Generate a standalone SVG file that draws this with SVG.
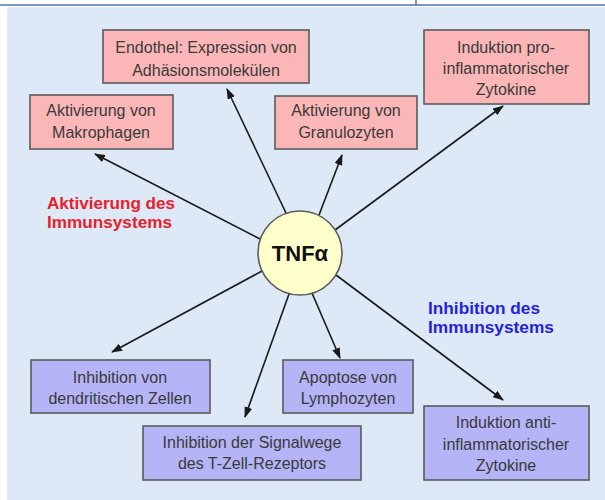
<svg xmlns="http://www.w3.org/2000/svg" width="605" height="500" viewBox="0 0 605 500">
<defs>
<marker id="ah" markerUnits="userSpaceOnUse" markerWidth="11" markerHeight="8" refX="10" refY="4" orient="auto">
<path d="M0,0 L11,4 L0,8 z" fill="#1a1a1a"/>
</marker>
<style>
.pink{fill:#fbb7b7;stroke:#5a5a5a;stroke-width:1.6}
.blue{fill:#b4b4f6;stroke:#5a5a5a;stroke-width:1.6}
.t{font-family:"Liberation Sans",Arial,sans-serif;font-size:16px;fill:#3a3a3a;text-anchor:middle}
.lbl{font-family:"Liberation Sans",Arial,sans-serif;font-size:17px;font-weight:bold}
.c line{stroke:#1a1a1a;stroke-width:1.6;marker-end:url(#ah)}
</style>
</defs>
<rect x="0" y="0" width="605" height="500" fill="#ffffff"/>
<rect x="7" y="7" width="598" height="493" fill="#dde9f7"/>
<line x1="0" y1="5" x2="605" y2="5" stroke="#4f73b8" stroke-width="1.5"/>
<line x1="416" y1="0" x2="416" y2="5" stroke="#4f73b8" stroke-width="1.5"/>

<g class="c">
<line x1="260" y1="239" x2="95" y2="154"/>
<line x1="286" y1="213" x2="227" y2="89"/>
<line x1="319" y1="215" x2="342" y2="155"/>
<line x1="335" y1="230" x2="503" y2="106"/>
<line x1="262" y1="271" x2="112" y2="352"/>
<line x1="289" y1="294" x2="245" y2="417"/>
<line x1="312" y1="293" x2="340" y2="358"/>
<line x1="336" y1="275" x2="503" y2="400"/>
</g>

<g id="endothel">
<rect class="pink" x="103" y="30" width="206" height="53"/>
<text class="t" x="206" y="53">Endothel: Expression von</text>
<text class="t" x="206" y="76">Adhäsionsmolekülen</text>
</g>
<g id="makrophagen">
<rect class="pink" x="30" y="95" width="143" height="54"/>
<text class="t" x="101" y="116">Aktivierung von</text>
<text class="t" x="101" y="138">Makrophagen</text>
</g>
<g id="granulozyten">
<rect class="pink" x="275" y="96" width="142" height="53"/>
<text class="t" x="346" y="116">Aktivierung von</text>
<text class="t" x="346" y="138">Granulozyten</text>
</g>
<g id="induktion-pro">
<rect class="pink" x="424" y="30" width="165" height="74"/>
<text class="t" x="506" y="53">Induktion pro-</text>
<text class="t" x="506" y="74">inflammatorischer</text>
<text class="t" x="506" y="95">Zytokine</text>
</g>
<g id="dendritisch">
<rect class="blue" x="31" y="360" width="179" height="53"/>
<text class="t" x="120" y="383">Inhibition von</text>
<text class="t" x="120" y="404">dendritischen Zellen</text>
</g>
<g id="apoptose">
<rect class="blue" x="283" y="360" width="130" height="53"/>
<text class="t" x="348" y="383">Apoptose von</text>
<text class="t" x="348" y="404">Lymphozyten</text>
</g>
<g id="signalwege">
<rect class="blue" x="143" y="426" width="218" height="54"/>
<text class="t" x="252" y="448">Inhibition der Signalwege</text>
<text class="t" x="252" y="469">des T-Zell-Rezeptors</text>
</g>
<g id="induktion-anti">
<rect class="blue" x="424" y="406" width="165" height="74"/>
<text class="t" x="506" y="428">Induktion anti-</text>
<text class="t" x="506" y="450">inflammatorischer</text>
<text class="t" x="506" y="471">Zytokine</text>
</g>
<g id="tnf">
<circle cx="300" cy="253" r="42" fill="#ffffcc" stroke="#5a5a5a" stroke-width="1.6"/>
<text x="300" y="261" text-anchor="middle" font-family="'Liberation Sans',Arial,sans-serif" font-size="22" font-weight="bold" fill="#111">TNFα</text>
</g>
<g id="label-aktivierung">
<text class="lbl" fill="#e8202a" x="47" y="209" textLength="128" lengthAdjust="spacingAndGlyphs">Aktivierung des</text>
<text class="lbl" fill="#e8202a" x="47" y="228" textLength="125" lengthAdjust="spacingAndGlyphs">Immunsystems</text>
</g>
<g id="label-inhibition">
<text class="lbl" fill="#2323dc" x="428" y="314" textLength="112" lengthAdjust="spacingAndGlyphs">Inhibition des</text>
<text class="lbl" fill="#2323dc" x="428" y="333" textLength="126" lengthAdjust="spacingAndGlyphs">Immunsystems</text>
</g>
</svg>
